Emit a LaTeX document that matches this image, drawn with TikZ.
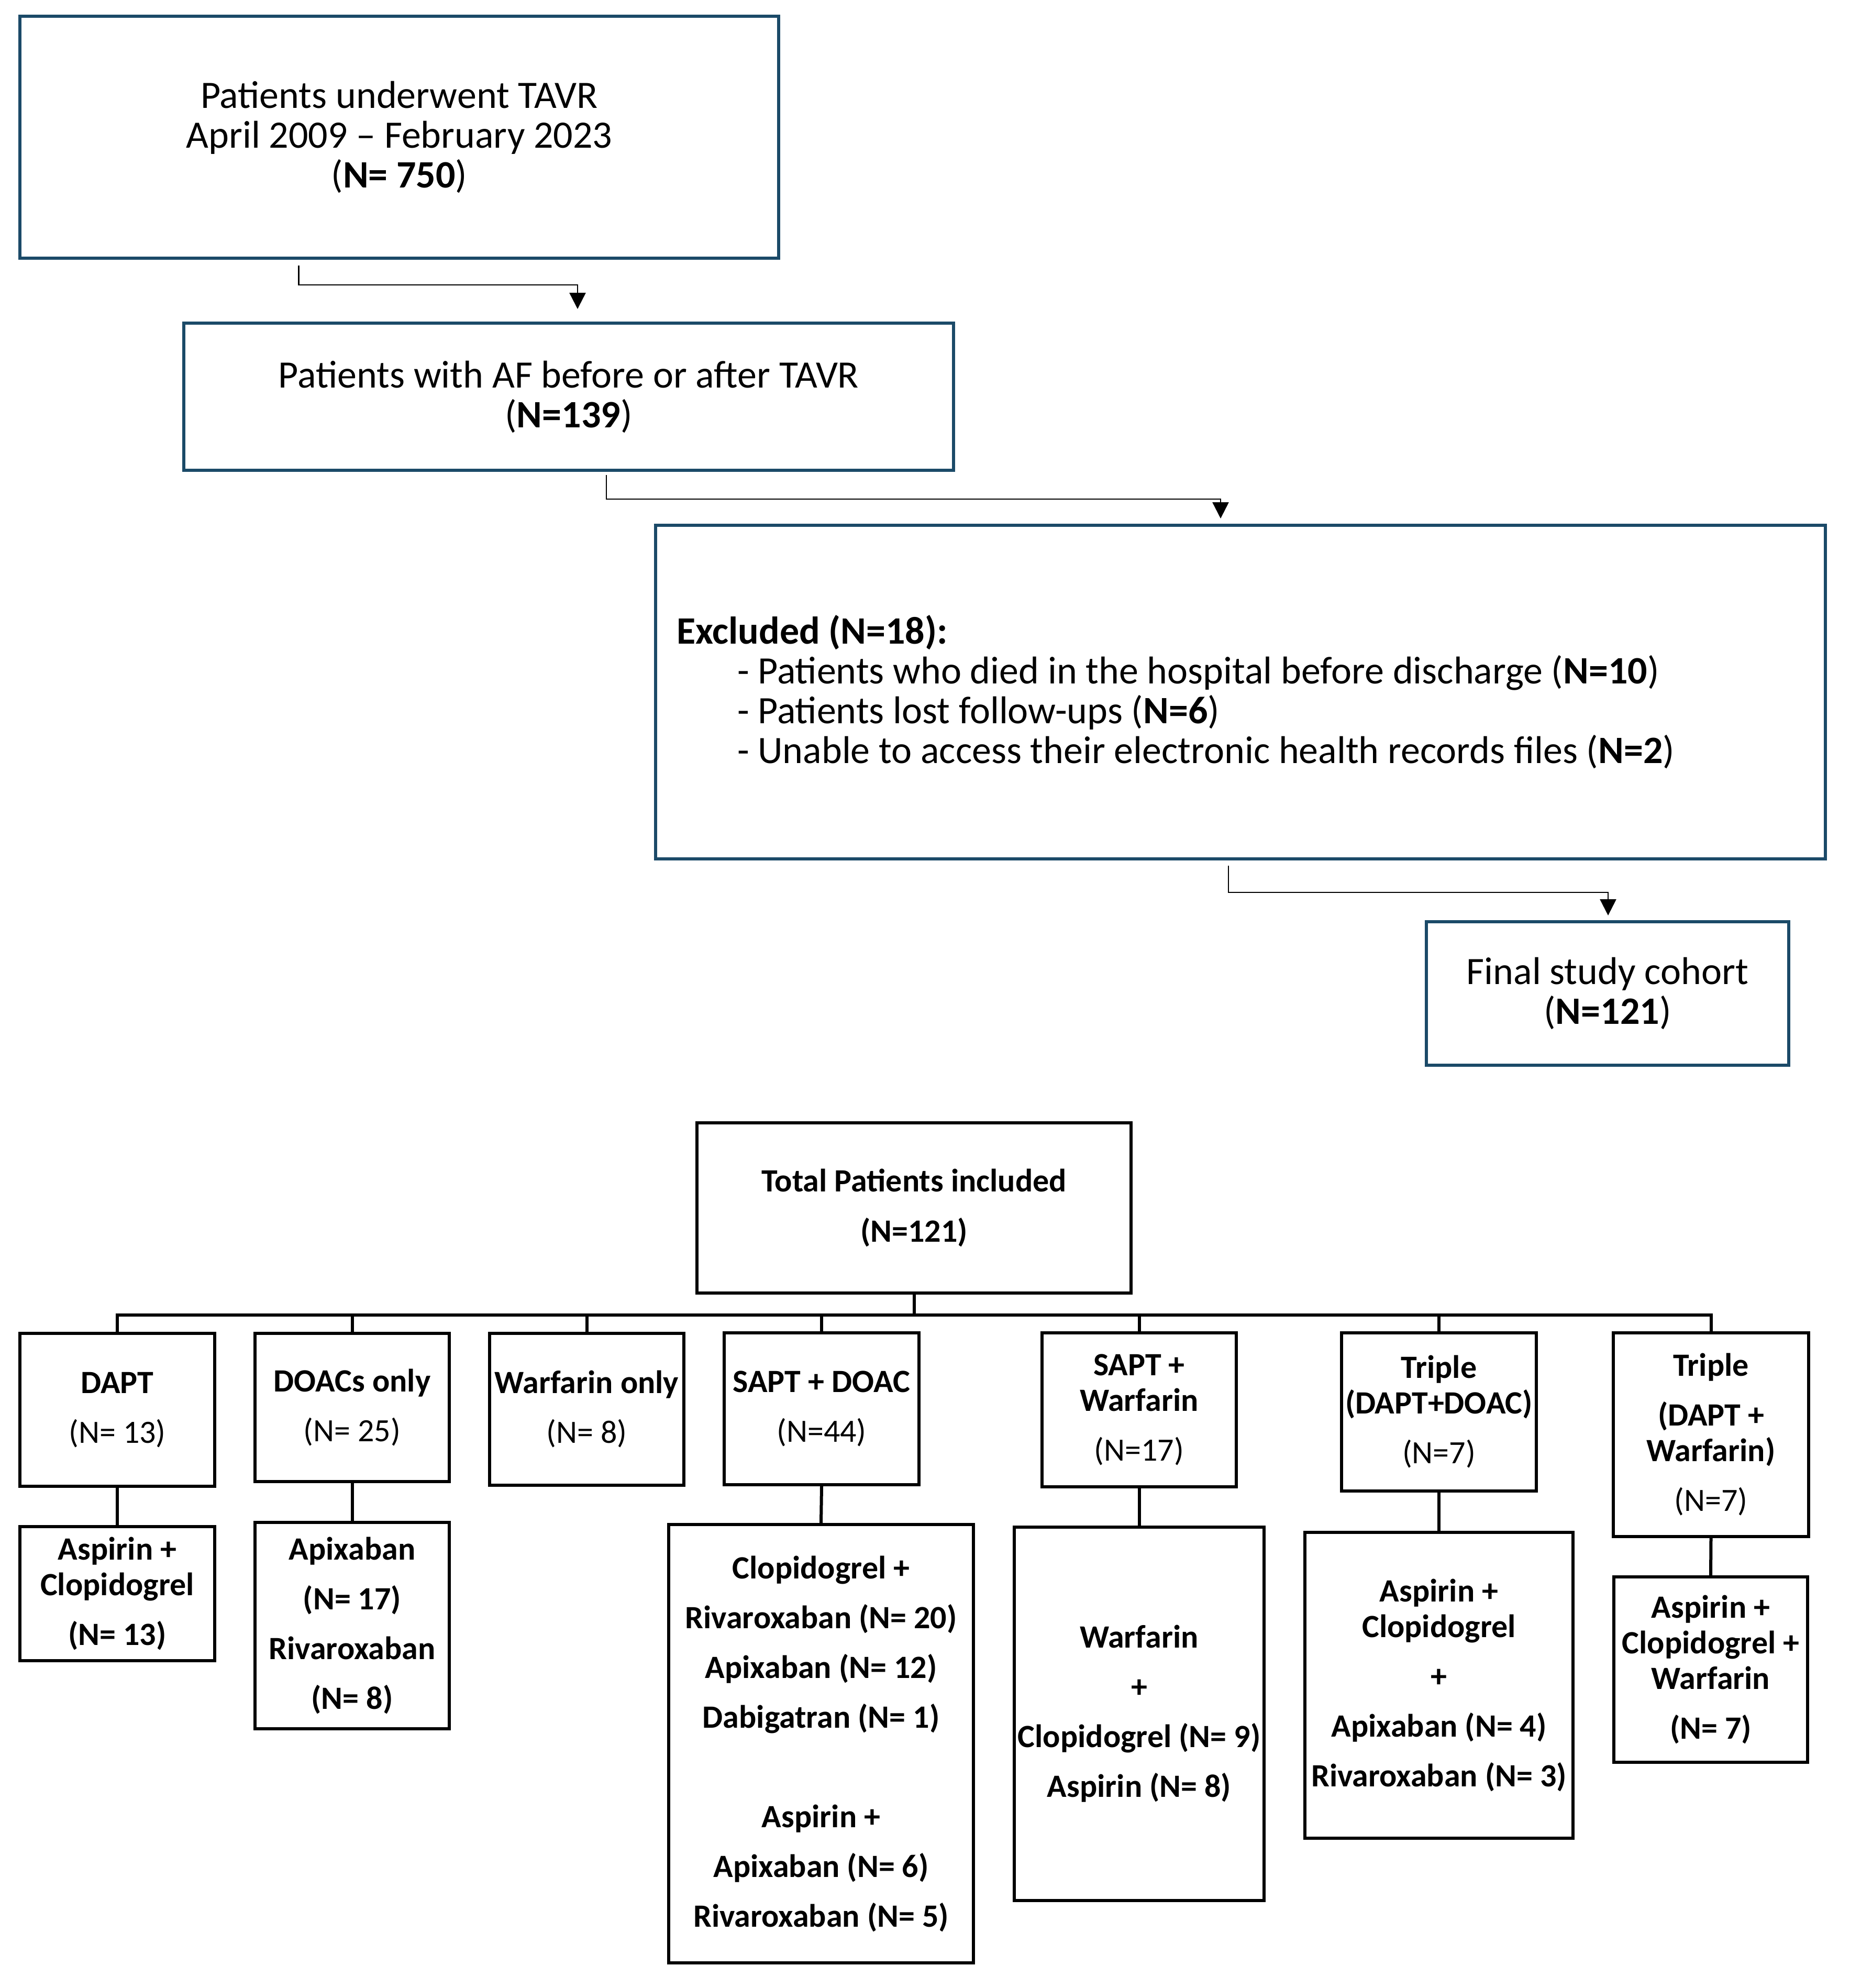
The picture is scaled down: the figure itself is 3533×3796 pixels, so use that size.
\documentclass[tikz,border=0pt]{standalone}
\usepackage{fontspec}
\setmainfont{Carlito}
\usetikzlibrary{arrows.meta,calc}
\definecolor{tealblue}{RGB}{27,74,104}
\newcommand\topfnt{\fontsize{74pt}{76pt}\selectfont}
\newcommand\botfnt{\fontsize{62pt}{68pt}\selectfont}
\begin{document}
\begin{tikzpicture}[x=1pt,y=-1pt,
  topbox/.style={draw=tealblue, line width=6pt, inner sep=0pt, align=center, font=\topfnt},
  botbox/.style={draw=black, line width=6pt, inner sep=0pt, align=center, font=\botfnt},
  botbold/.style={botbox, font=\botfnt\bfseries},
  arr/.style={line width=2.5pt, -{Triangle[width=31pt,length=31pt]}},
  conn/.style={line width=6pt, line join=miter}]
\useasboundingbox[fill=white] (0,0) rectangle (3533,3796);

% ---------- top flow ----------
\node[topbox, minimum width=1449pt, minimum height=462pt] (b1) at (762.5,262)
  {Patients underwent TAVR\\April 2009 – February 2023\\(\textbf{N= 750})};
\node[topbox, minimum width=1470pt, minimum height=281pt] (b2) at (1086,757.5)
  {Patients with AF before or after TAVR\\(\textbf{N=139})};
\node[topbox, minimum width=2234pt, minimum height=637pt, align=flush left, text width=2154pt] (b3) at (2369,1321.5)
  {\textbf{Excluded (N=18):}\\
   \hspace*{116pt}- Patients who died in the hospital before discharge (\textbf{N=10})\\
   \hspace*{116pt}- Patients lost follow-ups (\textbf{N=6})\\
   \hspace*{116pt}- Unable to access their electronic health records files (\textbf{N=2})};
\node[topbox, minimum width=692pt, minimum height=274pt] (b4) at (3070,1897)
  {Final study cohort\\(\textbf{N=121})};

\draw[arr] ([shift={(-192,11)}]b1.south) -- ++(0,37) -| ([shift={(17,-24)}]b2.north);
\draw[arr] ([shift={(72,6)}]b2.south) -- ++(0,46) -| ([shift={(-38,-10)}]b3.north);
\draw[arr] ([shift={(-23,10)}]b3.south) -- ++(0,51) -| ([shift={(1,-9)}]b4.north);

% ---------- bottom tree ----------
\node[botbold, minimum width=829pt, minimum height=325pt] (tot) at (1745.5,2306.5)
  {Total Patients included\\[28pt](N=121)};

\node[botbox, minimum width=372pt, minimum height=292pt] (c1) at (224,2692)
  {\textbf{DAPT}\\[27pt](N= 13)};
\node[botbox, minimum width=371pt, minimum height=283pt] (c2) at (672.5,2687.5)
  {\textbf{DOACs only}\\[27pt](N= 25)};
\node[botbox, minimum width=371pt, minimum height=290pt] (c3) at (1120.5,2691)
  {\textbf{Warfarin only}\\[27pt](N= 8)};
\node[botbox, minimum width=372pt, minimum height=290pt] (c4) at (1569,2690)
  {\textbf{SAPT + DOAC}\\[27pt](N=44)};
\node[botbox, minimum width=371pt, minimum height=294pt] (c5) at (2175.5,2692)
  {\textbf{SAPT +}\\\textbf{Warfarin}\\[27pt](N=17)};
\node[botbox, minimum width=372pt, minimum height=302pt] (c6) at (2748,2696)
  {\textbf{Triple}\\\textbf{(DAPT+DOAC)}\\[27pt](N=7)};
\node[botbox, minimum width=373pt, minimum height=389pt] (c7) at (3267.5,2739.5)
  {\textbf{Triple}\\[27pt]\textbf{(DAPT +}\\\textbf{Warfarin)}\\[27pt](N=7)};

\node[botbold, minimum width=372pt, minimum height=256pt] (s1) at (224,3043)
  {Aspirin +\\Clopidogrel\\[27pt](N= 13)};
\node[botbold, minimum width=371pt, minimum height=394pt] (s2) at (672.5,3104)
  {Apixaban\\[27pt](N= 17)\\[27pt]Rivaroxaban\\[27pt](N= 8)};
\node[botbold, minimum width=582pt, minimum height=837pt] (s4) at (1568,3329.5)
  {Clopidogrel +\\[27pt]Rivaroxaban (N= 20)\\[27pt]Apixaban (N= 12)\\[27pt]Dabigatran (N= 1)\\[122pt]Aspirin +\\[27pt]Apixaban (N= 6)\\[27pt]Rivaroxaban (N= 5)};
\node[botbold, minimum width=477pt, minimum height=713pt] (s5) at (2175.5,3272.5)
  {Warfarin\\[27pt]+\\[27pt]Clopidogrel (N= 9)\\[27pt]Aspirin (N= 8)};
\node[botbold, minimum width=512pt, minimum height=584pt] (s6) at (2748,3218)
  {Aspirin +\\Clopidogrel\\[27pt]+\\[27pt]Apixaban (N= 4)\\[27pt]Rivaroxaban (N= 3)};
\node[botbold, minimum width=370pt, minimum height=354pt] (s7) at (3267,3188)
  {Aspirin +\\Clopidogrel +\\Warfarin\\[27pt](N= 7)};

\draw[conn] (tot.south) -- ++(0,39) coordinate (bus);
\draw[conn] (c1.north) -- (bus -| c1.north) -- (bus -| c7.north) -- (c7.north);
\foreach \c in {c2,c3,c4,c5,c6}{\draw[conn] (bus -| \c.north) -- (\c.north);}
\draw[conn] (c1.south) -- (s1.north);
\draw[conn] (c2.south) -- (s2.north);
\draw[conn] (c4.south) -- (s4.north);
\draw[conn] (c5.south) -- (s5.north);
\draw[conn] (c6.south) -- (s6.north);
\draw[conn] (c7.south) -- (s7.north);
\end{tikzpicture}
\end{document}
